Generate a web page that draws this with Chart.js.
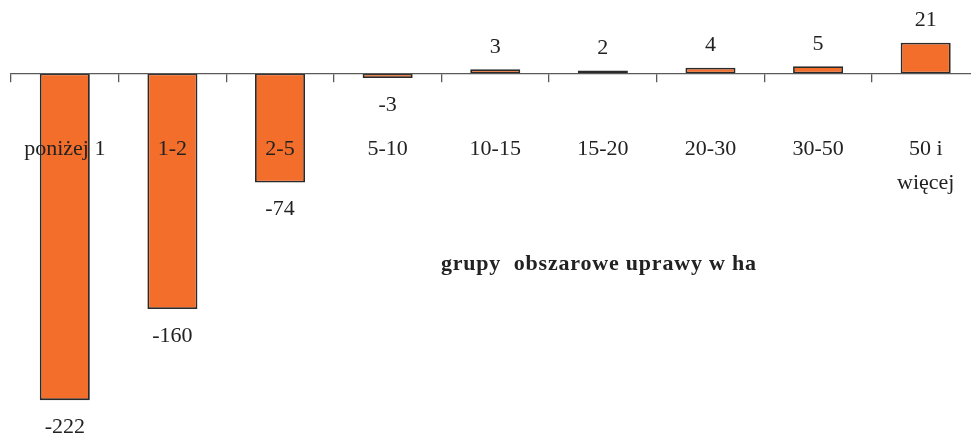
<!DOCTYPE html>
<html lang="pl">
<head>
<meta charset="utf-8">
<title>Zmiana liczby gospodarstw według grup obszarowych</title>
<script src="https://cdn.jsdelivr.net/npm/chart.js@4.4.1/dist/chart.umd.min.js"></script>
<style>
  html, body { margin: 0; padding: 0; background: #fff; overflow: hidden; }
  #wrap { position: relative; width: 980px; height: 434px; }
</style>
</head>
<body>
<div id="wrap"><canvas id="c" width="980" height="434"></canvas></div>
<script>
// Grupy obszarowe (w ha) i zmiana liczby gospodarstw
const categories = ['poniżej 1', '1-2', '2-5', '5-10', '10-15', '15-20', '20-30', '30-50', ['50 i', 'więcej']];
const values = [-222, -160, -74, -3, 3, 2, 4, 5, 21];
const axisTitle = 'grupy  obszarowe uprawy w ha';

const SERIF = '"Liberation Serif", "Times New Roman", serif';
const INK = '#222';

// Value labels under negative bars and over positive ones, plus the axis title
const annotate = {
  id: 'annotate',
  afterDraw(chart) {
    const ctx = chart.ctx;
    const meta = chart.getDatasetMeta(0);
    ctx.save();
    ctx.fillStyle = INK;
    ctx.font = '22px ' + SERIF;
    ctx.textAlign = 'center';
    ctx.textBaseline = 'middle';
    meta.data.forEach((bar, i) => {
      const v = values[i];
      const y = v < 0 ? bar.y + 27 : bar.y - 22;
      ctx.fillText(String(v), bar.x, y);
    });
    ctx.font = 'bold 22px ' + SERIF;
    if ('letterSpacing' in ctx) ctx.letterSpacing = '0.8px';
    const xs = chart.scales.x;
    ctx.fillText(axisTitle, xs.getPixelForValue(5) - 4, 264);
    ctx.restore();
  }
};

new Chart(document.getElementById('c'), {
  type: 'bar',
  data: {
    labels: categories,
    datasets: [{
      data: values,
      backgroundColor: '#F36D2B',
      borderColor: '#2a2a2a',
      borderWidth: 1.8,
      borderSkipped: false,
      categoryPercentage: 1,
      barPercentage: 0.465
    }]
  },
  options: {
    responsive: false,
    animation: false,
    layout: { padding: { left: 11, right: 0.5, top: 0, bottom: 0 } },
    plugins: { legend: { display: false }, tooltip: { enabled: false } },
    scales: {
      x: {
        position: { y: 0 },
        afterFit(s) { s.height = 0; s.paddingLeft = 0; s.paddingRight = 0; },
        offset: true,
        border: { display: true, color: '#5a5a5a', width: 1.3, z: 1 },
        grid: { offset: true, drawOnChartArea: false, drawTicks: true, tickLength: 8, color: '#5a5a5a', lineWidth: 1.3, z: 1 },
        ticks: {
          z: 1,
          color: INK,
          padding: 51,
          maxRotation: 0,
          autoSkip: false,
          font: { family: SERIF, size: 22, lineHeight: 1.55 }
        }
      },
      y: {
        display: false,
        min: -245,
        max: 50
      }
    }
  },
  plugins: [annotate]
});
</script>
</body>
</html>
